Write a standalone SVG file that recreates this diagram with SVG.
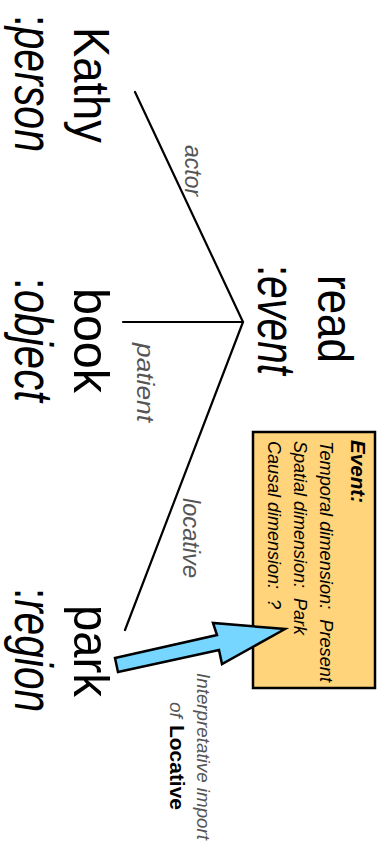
<svg xmlns="http://www.w3.org/2000/svg" width="389" height="854" viewBox="0 0 389 854">
<style>
.big{font-family:"Liberation Sans",Arial,sans-serif;font-size:50px;fill:#000}
.typ{font-family:"Liberation Sans",Arial,sans-serif;font-size:53px;fill:#000;font-style:italic}
.up{font-style:normal}
.lbl{font-family:"Liberation Sans",Arial,sans-serif;font-size:23px;font-style:italic;fill:#555}
.box{font-family:"Liberation Sans",Arial,sans-serif;font-size:18px;font-style:italic;fill:#000;white-space:pre}
.boxhead{font-family:"Liberation Sans",Arial,sans-serif;font-size:20px;font-style:italic;font-weight:bold;fill:#000}
.note{font-family:"Liberation Sans",Arial,sans-serif;font-size:19px;font-style:italic;fill:#555}
.notebold{font-family:"Liberation Sans",Arial,sans-serif;font-size:20px;font-weight:bold;fill:#000}
.edge{stroke:#000;stroke-width:2.2;fill:none;stroke-linecap:round}
</style>
<rect width="389" height="854" fill="#fff"/>
<g id="connectors">
  <line class="edge" x1="135" y1="92" x2="243" y2="322"/>
  <line class="edge" x1="123" y1="322" x2="243" y2="322"/>
  <line class="edge" x1="243" y1="322" x2="125" y2="630"/>
  <text class="lbl" transform="translate(185,145) rotate(90)">actor</text>
  <text class="lbl" transform="translate(137,343) rotate(90)" textLength="79" lengthAdjust="spacingAndGlyphs">patient</text>
  <text class="lbl" transform="translate(183,498) rotate(90)" textLength="80" lengthAdjust="spacingAndGlyphs">locative</text>
</g>
<g id="node-kathy">
  <text class="big" transform="translate(74,27) rotate(90)" textLength="116" lengthAdjust="spacingAndGlyphs">Kathy</text>
  <text class="typ" transform="translate(15,15) rotate(90)" textLength="137" lengthAdjust="spacingAndGlyphs"><tspan class="up">:</tspan>person</text>
</g>
<g id="node-read">
  <text class="big" transform="translate(318,275) rotate(90)" textLength="88" lengthAdjust="spacingAndGlyphs">read</text>
  <text class="typ" transform="translate(258,265) rotate(90)" textLength="110" lengthAdjust="spacingAndGlyphs"><tspan class="up">:</tspan>event</text>
</g>
<g id="node-book">
  <text class="big" transform="translate(74,288) rotate(90)" textLength="105" lengthAdjust="spacingAndGlyphs">book</text>
  <text class="typ" transform="translate(15,278) rotate(90)" textLength="124" lengthAdjust="spacingAndGlyphs"><tspan class="up">:</tspan>object</text>
</g>
<g id="node-park">
  <text class="big" transform="translate(74,605) rotate(90)" textLength="92" lengthAdjust="spacingAndGlyphs">park</text>
  <text class="typ" transform="translate(15,588) rotate(90)" textLength="124" lengthAdjust="spacingAndGlyphs"><tspan class="up">:</tspan>region</text>
</g>
<g id="node-event-box">
  <rect x="253" y="432" width="122" height="256" fill="#FFD47A" stroke="#000" stroke-width="2.5"/>
  <text class="boxhead" transform="translate(351,440) rotate(90)" textLength="63" lengthAdjust="spacingAndGlyphs">Event:</text>
  <text class="box" transform="translate(320,441) rotate(90)" textLength="241" lengthAdjust="spacingAndGlyphs">Temporal dimension:  Present</text>
  <text class="box" transform="translate(294,441) rotate(90)" textLength="194" lengthAdjust="spacingAndGlyphs">Spatial dimension:  Park</text>
  <text class="box" transform="translate(268,441) rotate(90)" textLength="168" lengthAdjust="spacingAndGlyphs">Causal dimension:  ?</text>
</g>
<g id="arrow">
  <polygon points="115,658 217,635 213,623 285,629 222,664 219,650 118,672" fill="#76D6FF" stroke="#000" stroke-width="2.5" stroke-linejoin="miter"/>
</g>
<g id="note">
  <text class="note" transform="translate(197,673) rotate(90)" textLength="167" lengthAdjust="spacingAndGlyphs">Interpretative import</text>
  <text class="note" transform="translate(170,702) rotate(90)">of</text>
  <text class="notebold" transform="translate(170,725) rotate(90)" textLength="85" lengthAdjust="spacingAndGlyphs">Locative</text>
</g>
</svg>
